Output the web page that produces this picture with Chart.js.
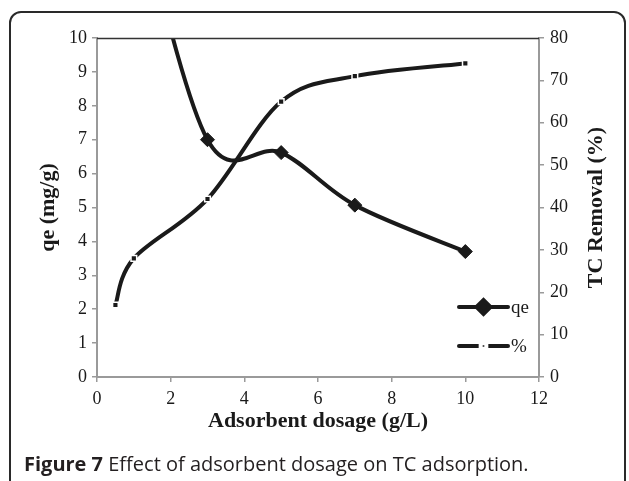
<!DOCTYPE html>
<html>
<head>
<meta charset="utf-8">
<script src="https://cdn.jsdelivr.net/npm/chart.js@4/dist/chart.umd.min.js"></script>
<style>
    html, body {
        margin: 0;
        padding: 0;
        background: #fff;
        overflow: hidden;
    }
    #figure {
        position: relative;
        width: 629px;
        height: 481px;
        overflow: hidden;
    }
    #frame {
        position: absolute;
        left: 9px;
        top: 11px;
        width: 613px;
        height: 520px;
        border: 2px solid #2a2a2a;
        border-radius: 12px;
    }
    #dosage-chart {
        position: absolute;
        left: 0;
        top: 0;
    }
    #caption {
        position: absolute;
        left: 24px;
        top: 454px;
        font-family: "Open Sans", "Noto Sans", sans-serif;
        font-size: 20px;
        line-height: 20px;
        color: #231f20;
        white-space: nowrap;
    }
    #caption b {
        font-weight: 700;
    }
</style>
</head>
<body>
<div id="figure">
    <div id="frame"></div>
    <canvas id="dosage-chart" width="629" height="481"></canvas>
    <div id="caption"><b>Figure 7</b> Effect of adsorbent dosage on TC adsorption.</div>
</div>
<script>
(function () {
    // adsorbent dosage (g/L)
    const dosage = [0.5, 1, 3, 5, 7, 10];
    // adsorption capacity qe (mg/g)
    const qeValues = [17, 14.5, 7, 6.62, 5.07, 3.7];
    // TC removal (%)
    const removalValues = [17, 28, 42, 65, 71, 74];

    const xTicks = [0, 2, 4, 6, 8, 10, 12];
    const qeTicks = [0, 1, 2, 3, 4, 5, 6, 7, 8, 9, 10];
    const removalTicks = [0, 10, 20, 30, 40, 50, 60, 70, 80];

    const seriesLabels = ["qe", "%"];
    const axisTitles = {
        x: "Adsorbent dosage (g/L)",
        y: "qe (mg/g)",
        y1: "TC Removal (%)",
    };

    const INK = "#1a1a1a";
    const AXIS_GREY = "#9a9a9a";
    const SERIF = "'Liberation Serif', 'Times New Roman', serif";
    const TICK_FONT = { family: SERIF, size: 18 };

    function toPoints(xs, ys) {
        return xs.map((x, i) => ({ x: x, y: ys[i] }));
    }

    function fixedTicks(values) {
        return function (scale) {
            scale.ticks = values.map((v) => ({ value: v }));
        };
    }

    // spreadsheet-style smoothing: catmull-rom tangents, 1/6 of the chord
    const smoothLinePlugin = {
        id: "smoothLine",
        beforeDatasetDraw(chart, args) {
            const meta = args.meta;
            const pts = meta.data;
            const n = pts.length;
            for (let i = 0; i < n; i++) {
                const prev = pts[Math.max(i - 1, 0)];
                const next = pts[Math.min(i + 1, n - 1)];
                const dx = (next.x - prev.x) / 6;
                const dy = (next.y - prev.y) / 6;
                pts[i].cp1x = pts[i].x - dx;
                pts[i].cp1y = pts[i].y - dy;
                pts[i].cp2x = pts[i].x + dx;
                pts[i].cp2y = pts[i].y + dy;
            }
            meta.dataset._pointsUpdated = true;
        },
    };

    // axis titles, the right one reads bottom to top
    const axisTitlePlugin = {
        id: "axisTitles",
        afterDraw(chart) {
            const ctx = chart.ctx;
            const area = chart.chartArea;
            const midY = (area.top + area.bottom) / 2;
            ctx.save();
            ctx.fillStyle = INK;
            ctx.font = "bold 22px " + SERIF;
            ctx.textAlign = "center";
            ctx.textBaseline = "middle";

            ctx.fillText(axisTitles.x, (area.left + area.right) / 2, 421);

            ctx.save();
            ctx.translate(48, midY);
            ctx.rotate(-Math.PI / 2);
            ctx.fillText(axisTitles.y, 0, 0);
            ctx.restore();

            ctx.save();
            ctx.translate(596, midY);
            ctx.rotate(-Math.PI / 2);
            ctx.fillText(axisTitles.y1, 0, 0);
            ctx.restore();

            // dark frame line along the top of the plot
            ctx.strokeStyle = "#333";
            ctx.lineWidth = 1.5;
            ctx.beginPath();
            ctx.moveTo(area.left, area.top + 0.5);
            ctx.lineTo(area.right, area.top + 0.5);
            ctx.stroke();
            ctx.restore();
        },
    };

    // legend sits inside the plot, lower right corner
    const insideLegendPlugin = {
        id: "insideLegend",
        afterDraw(chart) {
            const ctx = chart.ctx;
            const area = chart.chartArea;
            const rows = [area.bottom - 70, area.bottom - 31];
            const x0 = area.right - 80;
            const x1 = area.right - 31;
            chart.data.datasets.forEach((ds, i) => {
                const y = rows[i];
                ctx.save();
                ctx.strokeStyle = ds.borderColor;
                ctx.lineWidth = ds.borderWidth;
                ctx.lineCap = "round";
                ctx.beginPath();
                ctx.moveTo(x0, y);
                ctx.lineTo(x1, y);
                ctx.stroke();

                ctx.fillStyle = ds.pointBackgroundColor;
                ctx.strokeStyle = ds.pointBorderColor;
                Chart.helpers.drawPoint(ctx, {
                    pointStyle: ds.pointStyle,
                    radius: ds.pointRadius,
                    borderWidth: ds.pointBorderWidth,
                    rotation: 0,
                }, (x0 + x1) / 2, y);
                ctx.restore();

                ctx.save();
                ctx.font = "19px " + SERIF;
                ctx.fillStyle = INK;
                ctx.textAlign = "left";
                ctx.textBaseline = "middle";
                ctx.fillText(seriesLabels[i], x1 + 3, y + 1);
                ctx.restore();
            });
        },
    };

    const config = {
        type: "line",
        data: {
            datasets: [
                {
                    label: seriesLabels[0],
                    data: toPoints(dosage, qeValues),
                    yAxisID: "y",
                    borderColor: INK,
                    borderWidth: 4,
                    tension: 0.4,
                    pointStyle: "rectRot",
                    pointRadius: 7,
                    pointBackgroundColor: INK,
                    pointBorderColor: INK,
                    pointBorderWidth: 1,
                },
                {
                    label: seriesLabels[1],
                    data: toPoints(dosage, removalValues),
                    yAxisID: "y1",
                    borderColor: INK,
                    borderWidth: 4,
                    tension: 0.4,
                    pointStyle: "rect",
                    pointRadius: 4,
                    pointBackgroundColor: INK,
                    pointBorderColor: "#fff",
                    pointBorderWidth: 1.5,
                },
            ],
        },
        options: {
            responsive: false,
            animation: false,
            layout: {
                padding: { top: 38, left: 0, right: 0, bottom: 0 },
            },
            scales: {
                x: {
                    type: "linear",
                    min: 0,
                    max: 12,
                    afterFit(scale) {
                        scale.height = 104;
                    },
                    afterBuildTicks: fixedTicks(xTicks),
                    border: { color: AXIS_GREY, width: 2 },
                    grid: { drawOnChartArea: false, color: AXIS_GREY, tickLength: 5, lineWidth: 1.5 },
                    ticks: { color: INK, font: TICK_FONT, padding: 6, maxRotation: 0 },
                },
                y: {
                    type: "linear",
                    position: "left",
                    min: 0,
                    max: 10,
                    afterFit(scale) {
                        scale.width = 97;
                    },
                    afterBuildTicks: fixedTicks(qeTicks),
                    border: { color: AXIS_GREY, width: 2 },
                    grid: { drawOnChartArea: false, color: AXIS_GREY, tickLength: 5, lineWidth: 1.5 },
                    ticks: { color: INK, font: TICK_FONT, padding: 5 },
                },
                y1: {
                    type: "linear",
                    position: "right",
                    min: 0,
                    max: 80,
                    afterFit(scale) {
                        scale.width = 90;
                    },
                    afterBuildTicks: fixedTicks(removalTicks),
                    border: { color: AXIS_GREY, width: 2 },
                    grid: { drawOnChartArea: false, color: AXIS_GREY, tickLength: 5, lineWidth: 1.5 },
                    ticks: { color: INK, font: TICK_FONT, padding: 6 },
                },
            },
            plugins: {
                legend: { display: false },
                tooltip: { enabled: false },
            },
        },
        plugins: [smoothLinePlugin, axisTitlePlugin, insideLegendPlugin],
    };

    new Chart(document.getElementById("dosage-chart").getContext("2d"), config);
})();
</script>
</body>
</html>
